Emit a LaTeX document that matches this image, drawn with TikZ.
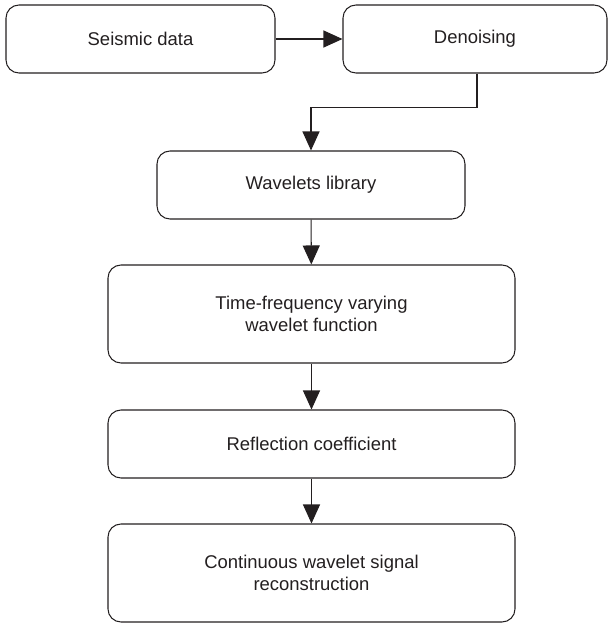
\documentclass[tikz,border=0pt]{standalone}
\usepackage{fontspec}
\setmainfont{Liberation Sans}
\usetikzlibrary{arrows.meta}
\definecolor{ink}{HTML}{231F20}
\begin{document}
\begin{tikzpicture}[
		stage/.style={draw=ink, line width=0.6pt, rounded corners=0.26cm, align=center, text=ink,
			font=\fontsize{10.5}{12.3}\selectfont, inner sep=0pt, minimum height=1.36cm},
		tall/.style={minimum height=1.96cm},
		link/.style={draw=ink, line width=0.6pt, -{Triangle[length=3.8mm, width=3.4mm]}}
	]
		\useasboundingbox (0, 0) rectangle (12.16, -12.46);

		\node[stage, minimum width=5.38cm] (seis) at (2.81, -0.78){Seismic data};
		\node[stage, minimum width=5.28cm] (den) at (9.5, -0.78){Denoising};

		\node[stage, minimum width=6.16cm] (wav) at (6.22, -3.7){Wavelets library};
		\node[stage, tall, minimum width=8.14cm] (tfw) at (6.23, -6.28){Time-frequency varying\\wavelet function};
		\node[stage, minimum width=8.14cm] (refl) at (6.23, -8.88){Reflection coefficient};
		\node[stage, tall, minimum width=8.14cm] (cwr) at (6.23, -11.46){Continuous wavelet signal\\reconstruction};

		\draw[link] (seis) to (den);
		\draw[link] ([xshift=0.04cm]den.south) -- ++(0, -0.68) -| (wav.north);
		\draw[link] (wav) to (tfw);
		\draw[link] (tfw) to (refl);
		\draw[link] (refl) to (cwr);
	\end{tikzpicture}
\end{document}
